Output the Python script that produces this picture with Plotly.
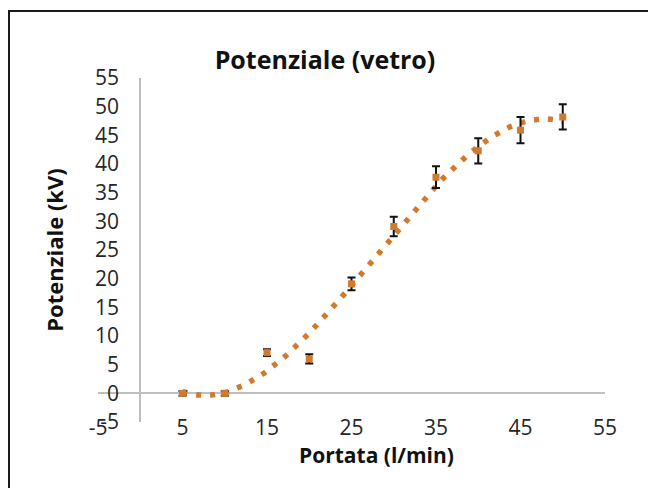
import numpy as np
import plotly.graph_objects as go

# ---- data ----
portata = [5, 10, 15, 20, 25, 30, 35, 40, 45, 50]          # l/min
potenziale = [0.0, 0.0, 7.1, 6.0, 19.1, 29.1, 37.7, 42.3, 45.9, 48.2]  # kV
errore = [0.4, 0.4, 0.6, 0.8, 1.1, 1.7, 1.9, 2.2, 2.3, 2.2]            # kV
x_ticks = [-5, 5, 15, 25, 35, 45, 55]
x_tick_labels = ["-5", "5", "15", "25", "35", "45", "55"]
y_ticks = [-5, 0, 5, 10, 15, 20, 25, 30, 35, 40, 45, 50, 55]
y_tick_labels = ["-5", "0", "5", "10", "15", "20", "25", "30", "35", "40",
                 "45", "50", "55"]
trend_degree = 3

# polynomial trendline computed from the data (as the spreadsheet does)
coef = np.polyfit(portata, potenziale, trend_degree)
x_fit = np.linspace(min(portata), max(portata), 200)
y_fit = np.polyval(coef, x_fit)

ORANGE = "#D07A2E"
FONT = "Open Sans"

W, H = 648, 488
ML, MR, MT, MB = 98, 43, 78, 66
PW, PH = W - ML - MR, H - MT - MB

def px_x(p):
    return (p - ML) / PW

def px_y(p):
    return (H - MB - p) / PH

fig = go.Figure()
fig.add_trace(go.Scatter(
    x=x_fit, y=y_fit, mode="lines",
    line=dict(color=ORANGE, width=5.5, dash="5px,9px"),
    hoverinfo="skip", showlegend=False,
))
fig.add_trace(go.Scatter(
    x=portata, y=potenziale, mode="markers",
    marker=dict(color=ORANGE, size=7, symbol="square"),
    error_y=dict(type="data", array=errore, visible=True,
                 color="#111111", thickness=2, width=4),
    showlegend=False,
))

fig.update_layout(
    width=W, height=H, autosize=False,
    margin=dict(l=ML, r=MR, t=MT, b=MB),
    paper_bgcolor="white", plot_bgcolor="white",
    font=dict(family=FONT, color="#262626"),
    title=dict(text="<b>Potenziale (vetro)</b>", x=325 / W, xanchor="center",
               y=1 - 60 / H, yanchor="middle",
               font=dict(family=FONT, size=25, color="#111111")),
    xaxis=dict(range=[-5, 55], tickmode="array", tickvals=x_ticks,
               ticktext=x_tick_labels,
               showgrid=False, showline=False, ticks="",
               zeroline=True, zerolinecolor="#BFBFBF", zerolinewidth=2,
               anchor="free", position=px_y(413),
               tickfont=dict(size=21, color="#262626")),
    yaxis=dict(range=[-5, 55], tickmode="array", tickvals=y_ticks,
               ticktext=y_tick_labels,
               showgrid=False, showline=False, ticks="",
               zeroline=True, zerolinecolor="#BFBFBF", zerolinewidth=2,
               anchor="free", position=px_x(119),
               tickfont=dict(size=21, color="#262626"),
               title=dict(text="<b>Potenziale (kV)</b>", standoff=24,
                          font=dict(family=FONT, size=22, color="#111111"))),
    shapes=[dict(type="rect", xref="paper", yref="paper",
                 x0=px_x(9), x1=px_x(654), y0=px_y(494), y1=px_y(11),
                 line=dict(color="#1a1a1a", width=2), layer="above")],
    annotations=[dict(text="<b>Portata (l/min)</b>", xref="paper", yref="paper",
                      x=px_x(376), y=px_y(455), showarrow=False,
                      xanchor="center", yanchor="middle",
                      font=dict(family=FONT, size=21, color="#111111"))],
)

fig.write_html(
    "out.html",
    config={"displayModeBar": False},
    post_script="document.body.style.margin='0';document.body.style.overflow='hidden';",
)
